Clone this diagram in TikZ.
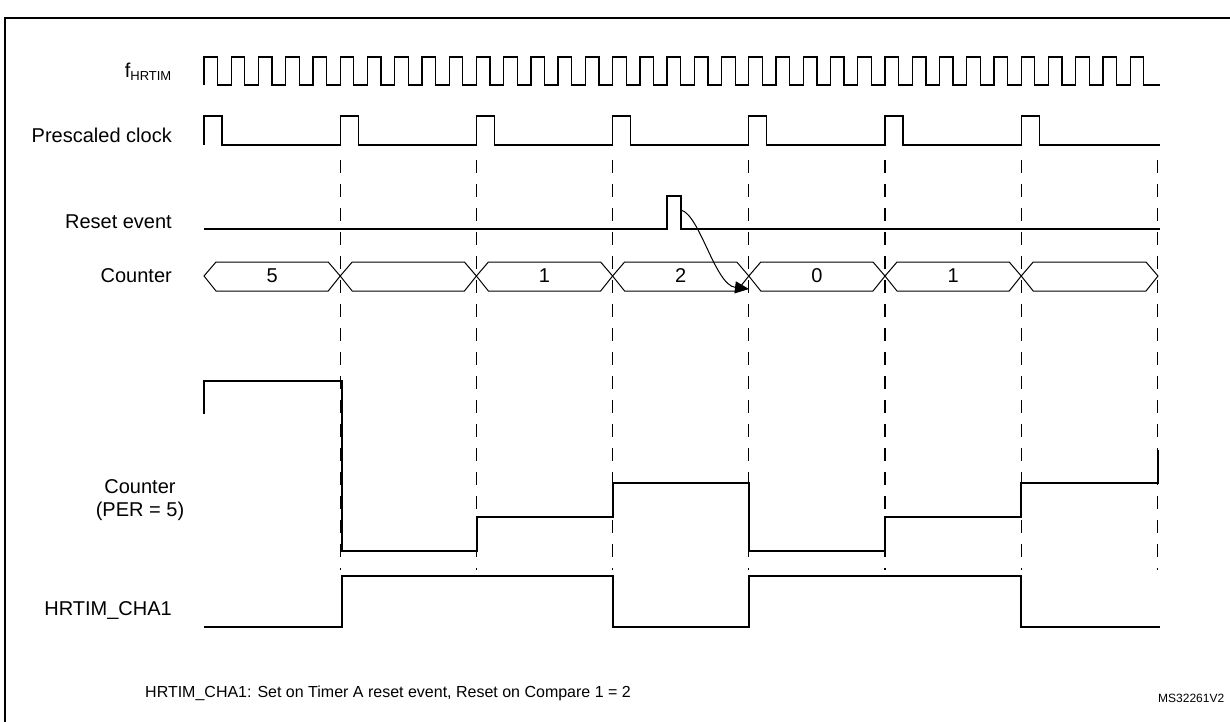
\documentclass[tikz,border=0pt]{standalone}
\usepackage{fontspec}
\setmainfont{Liberation Sans}
\usetikzlibrary{arrows.meta}
\begin{document}
\begin{tikzpicture}[x=1pt,y=-1pt,
  sig/.style={line width=1.3pt, line join=miter},
  lbl/.style={font=\fontsize{20}{23}\selectfont, anchor=east, inner sep=0pt},
  val/.style={font=\fontsize{20}{23}\selectfont, inner sep=0pt},
  grid/.style={line width=1.3pt, dash pattern=on 13pt off 11pt}]
\useasboundingbox (0,0) rectangle (1230,721);
\draw[line width=2pt] (5,723) -- (5,18) -- (1232,18);
% labels
\node[lbl] (lf) at (172,72) {f\textsubscript{\fontsize{13}{15}\selectfont HRTIM}};
\node[lbl] (lp) at (172,135) {Prescaled clock};
\node[lbl] (lr) at (172,222) {Reset event};
\node[lbl] (lc) at (172,276) {Counter};
\node[val,align=center] (lpe) at (140,500) {Counter\\(PER = 5)};
\node[lbl] (lh) at (172,610) {HRTIM\_CHA1};
\node[val,anchor=west,font=\fontsize{16}{18}\selectfont] (note) at (145,693) {HRTIM\_CHA1: Set on Timer A reset event, Reset on Compare 1 = 2};
\node[anchor=west,inner sep=0pt,font=\fontsize{12}{14}\selectfont] (ms) at (1158,698) {MS32261V2};
% dashed grid
\foreach \i in {1,...,7}{
  \coordinate (g\i) at ({204+136.2*\i},160);
  \draw[grid] ({204+136.2*\i},160) -- ({204+136.2*\i},570);
}
% fHRTIM
\draw[sig] (204,85) \foreach \k in {0,...,34}{ -- ({204+27.24*\k},85) -- ({204+27.24*\k},57) -- ({217.6+27.24*\k},57) -- ({217.6+27.24*\k},85)} -- (1160,85);
% prescaled
\draw[sig] (204,145) \foreach \k in {0,...,6}{ -- ({204+136.2*\k},145) -- ({204+136.2*\k},116) -- ({222+136.2*\k},116) -- ({222+136.2*\k},145)} -- (1160,145);
% reset event
\coordinate (rs) at (681,210);
\draw[sig] (204,229) -- (667,229) -- (667,196) -- (681,196) -- (681,229) -- (1160,229);
% bus
\foreach \a/\b/\t [count=\n] in {204/340.2/5, 340.2/476.4/, 476.4/612.6/1, 612.6/748.8/2, 748.8/885/0, 885/1021.2/1, 1021.2/1158/}{
  \draw[line width=1pt] (\a,276) -- (\a+12,262) -- (\b-12,262) -- (\b,276) -- (\b-12,291) -- (\a+12,291) -- cycle;
  \node[val] (v\n) at ({(\a+\b)/2},276) {\t};
}
\coordinate (ae) at (749,289);
\draw[line width=1pt,-{Triangle[length=14pt,width=12pt]}] (rs) .. controls (700,215) and (715,285) .. (ae);
% counter ramp
\draw[sig] (204,414) -- (204,381) -- (342,381) -- (342,551) -- (477,551) -- (477,517) -- (613,517) -- (613,483) -- (749,483) -- (749,551) -- (885,551) -- (885,517) -- (1021,517) -- (1021,483) -- (1158,483) -- (1158,450);
% CHA1
\draw[sig] (204,627) -- (342,627) -- (342,576) -- (613,576) -- (613,627) -- (749,627) -- (749,576) -- (1021,576) -- (1021,627) -- (1160,627);
\end{tikzpicture}
\end{document}
